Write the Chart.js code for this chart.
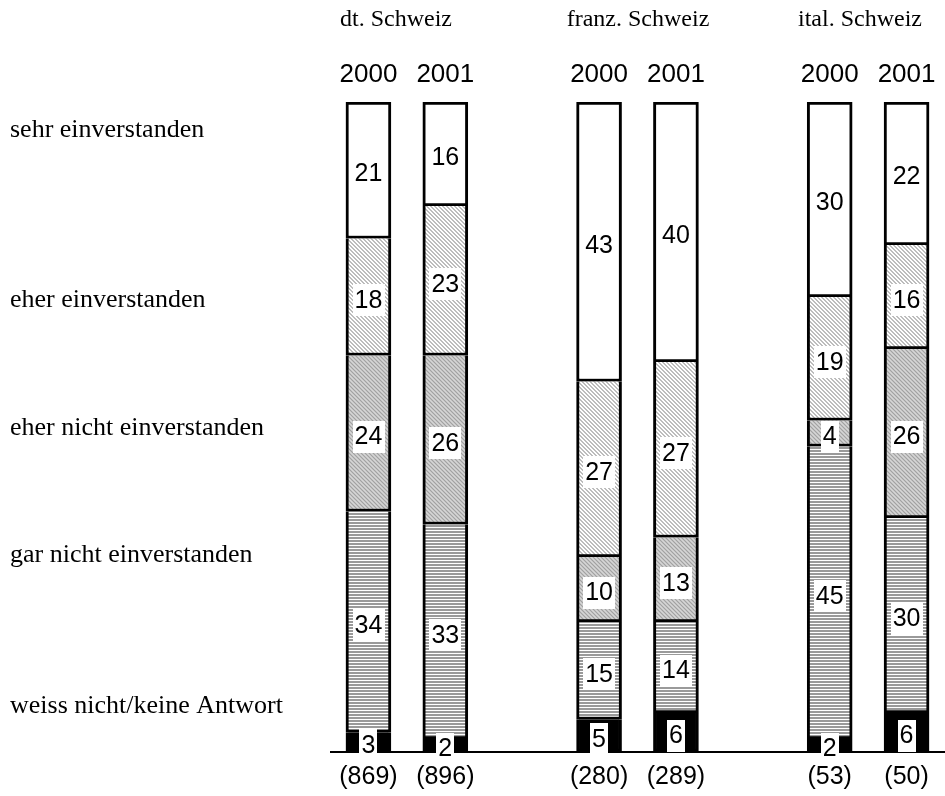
<!DOCTYPE html>
<html>
<head>
<meta charset="utf-8">
<script src="https://cdn.jsdelivr.net/npm/chart.js@4/dist/chart.umd.min.js"></script>
<style>
  body { margin: 0; background: #fff; }
  #wrap { width: 945px; height: 796px; }
</style>
</head>
<body>
<div id="wrap"><canvas id="chart" width="945" height="796"></canvas></div>
<script>
// bars: dt. 2000, dt. 2001, (gap), franz. 2000, franz. 2001, (gap), ital. 2000, ital. 2001
const barKeys = ['dt2000', 'dt2001', '', 'fr2000', 'fr2001', '', 'it2000', 'it2001'];
const years = ['2000', '2001', '', '2000', '2001', '', '2000', '2001'];
const sampleSizes = ['(869)', '(896)', '', '(280)', '(289)', '', '(53)', '(50)'];
const regions = ['dt. Schweiz', 'franz. Schweiz', 'ital. Schweiz'];

// answer categories, bottom to top
const answers = ['weiss nicht/keine Antwort', 'gar nicht einverstanden', 'eher nicht einverstanden', 'eher einverstanden', 'sehr einverstanden'];
const weissNicht = [3, 2, null, 5, 6, null, 2, 6];
const garNicht = [34, 33, null, 15, 14, null, 45, 30];
const eherNicht = [24, 26, null, 10, 13, null, 4, 26];
const eher = [18, 23, null, 27, 27, null, 19, 16];
const sehr = [21, 16, null, 43, 40, null, 30, 22];

// kleine Muster fuer die Schraffuren
function makePattern(kind) {
  const c = document.createElement('canvas');
  c.width = 4; c.height = 4;
  const g = c.getContext('2d');
  if (kind === 'horiz') {
    c.width = 4; c.height = 3;
    g.fillStyle = '#ffffff'; g.fillRect(0, 0, 4, 3);
    g.fillStyle = '#9a9a9a'; g.fillRect(0, 0, 4, 2);
  } else if (kind === 'diagLight') {
    g.fillStyle = '#ffffff'; g.fillRect(0, 0, 4, 4);
    g.fillStyle = '#bdbdbd';
    for (let i = 0; i < 4; i++) { g.fillRect(i, i, 1, 1); g.fillRect((i + 1) % 4, i, 1, 1); }
  } else {
    g.fillStyle = '#c4c4c4'; g.fillRect(0, 0, 4, 4);
    g.fillStyle = '#a2a2a2';
    for (let i = 0; i < 4; i++) { g.fillRect(i, i, 1, 1); }
    g.fillStyle = '#d6d6d6';
    for (let i = 0; i < 4; i++) { g.fillRect((i + 2) % 4, i, 1, 1); }
  }
  return g.createPattern(c, 'repeat');
}

const fills = ['#000000', makePattern('horiz'), makePattern('diagDark'), makePattern('diagLight'), '#ffffff'];
const series = [weissNicht, garNicht, eherNicht, eher, sehr];

const datasets = series.map((vals, i) => ({
  label: answers[i],
  data: vals,
  backgroundColor: fills[i],
  borderColor: '#000000',
  borderWidth: 3,
  borderSkipped: i === series.length - 1 ? false : 'top',
  barThickness: 45
}));

const labelPlugin = {
  id: 'labels',
  afterDatasetsDraw(chart) {
    const ctx = chart.ctx;
    const area = chart.chartArea;
    const xs = chart.scales.x;

    // Grundlinie
    ctx.save();
    ctx.strokeStyle = '#000';
    ctx.lineWidth = 2;
    ctx.beginPath();
    ctx.moveTo(area.left, area.bottom);
    ctx.lineTo(area.right, area.bottom);
    ctx.stroke();

    // Werte in weissen Kaestchen
    ctx.font = '25px "Liberation Sans", Arial, sans-serif';
    ctx.textAlign = 'center';
    ctx.textBaseline = 'middle';
    chart.data.datasets.forEach((ds, di) => {
      const meta = chart.getDatasetMeta(di);
      meta.data.forEach((bar, i) => {
        const v = ds.data[i];
        if (v == null) return;
        const txt = String(v);
        const cx = bar.x;
        const cy = (bar.y + bar.base) / 2 + 3;
        const tw = ctx.measureText(txt).width;
        ctx.fillStyle = '#fff';
        ctx.fillRect(Math.round(cx - tw / 2 - 2), Math.round(cy - 16), Math.round(tw + 4), 32);
        ctx.fillStyle = '#000';
        ctx.fillText(txt, cx, cy + 1);
      });
    });

    // Jahre oben, Fallzahlen unten
    barKeys.forEach((k, i) => {
      if (!k) return;
      const x = xs.getPixelForValue(i);
      ctx.font = '26px "Liberation Sans", Arial, sans-serif';
      ctx.fillText(years[i], x, 75);
      ctx.font = '25px "Liberation Sans", Arial, sans-serif';
      ctx.fillText(sampleSizes[i], x, 777);
    });

    // Regionen
    ctx.font = '24px "Liberation Serif", "Times New Roman", serif';
    const titleCenters = [396, 638, 860];
    regions.forEach((r, i) => ctx.fillText(r, titleCenters[i], 20));

    // Antwortkategorien links
    ctx.font = '26px "Liberation Serif", "Times New Roman", serif';
    ctx.textAlign = 'left';
    const answerY = [706, 555, 428, 300, 130];
    answers.forEach((a, i) => ctx.fillText(a, 10, answerY[i]));
    ctx.restore();
  }
};

new Chart(document.getElementById('chart'), {
  type: 'bar',
  data: { labels: barKeys, datasets: datasets },
  options: {
    responsive: false,
    animation: false,
    layout: { padding: { left: 330, right: 0, top: 102, bottom: 44 } },
    plugins: { legend: { display: false }, tooltip: { enabled: false } },
    scales: {
      x: { stacked: true, display: false },
      y: { stacked: true, display: false, min: 0, max: 100 }
    }
  },
  plugins: [labelPlugin]
});
</script>
</body>
</html>
